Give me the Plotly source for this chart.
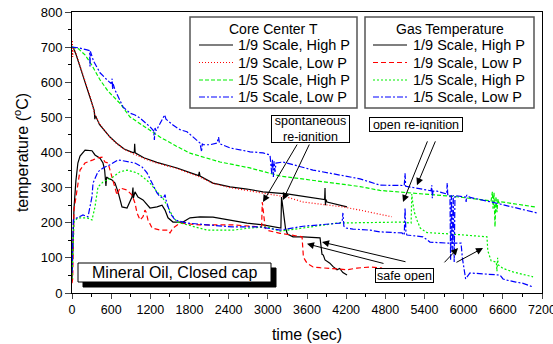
import plotly.graph_objects as go

# ---------------- data ----------------
# Core Center T
core_19H_t = [0, 20, 60, 123, 200, 276, 340, 350, 360, 420, 500, 582, 700, 800, 934, 955, 960, 968,
              1100, 1300, 1609, 1940, 1950, 1961, 2160, 2421, 2681, 2926, 3294, 3692, 3870, 3876,
              3882, 3890, 3907, 4152, 4213]
core_19H_T = [700, 698, 680, 644, 600, 558, 520, 495, 505, 480, 462, 444, 424, 410, 400, 401, 425, 399,
              385, 372, 356, 334, 345, 333, 313, 302, 296, 288, 282, 271, 266, 299, 250, 266, 259, 248, 245]

core_19L_t = [0, 5, 10, 15, 30, 60, 123, 200, 276, 352, 420, 500, 582, 700, 800, 934, 1100, 1300,
              1609, 1961, 2160, 2421, 2681, 2926, 3294, 3540, 4152, 4412, 4900]
core_19L_T = [680, 720, 672, 700, 698, 682, 648, 603, 560, 508, 482, 462, 443, 423, 409, 397, 383, 370,
              354, 330, 312, 300, 292, 285, 273, 259, 245, 236, 217]

core_15H_t = [0, 100, 199, 300, 429, 550, 735, 889, 1100, 1348, 1600, 1808, 2268, 2727, 3187, 3692,
              4412, 4718, 5178, 5898, 6420, 6440, 6450, 6465, 6480, 6495, 6510, 6525, 6540, 6560, 7093]
core_15H_T = [700, 695, 678, 650, 607, 575, 540, 501, 475, 444, 418, 398, 373, 356, 333, 320,
              303, 292, 285, 274, 262, 288, 240, 285, 188, 275, 230, 268, 255, 260, 245]

core_15L_t = [0, 100, 230, 270, 276, 282, 330, 429, 536, 600, 615, 622, 630, 659, 781, 889, 965, 1042,
              1195, 1250, 1262, 1272, 1290, 1394, 1420, 1440, 1547, 1655, 1762, 1961, 1985, 1995, 2010,
              2114, 2221, 2245, 2260, 2421, 2727, 2926, 3033, 3060, 3070, 3085, 3095, 3110, 3125, 3232,
              3692, 4412, 4718, 5090, 5102, 5112, 5500, 5512, 5520, 5530, 5592, 5740, 5748, 5756, 5790,
              5800, 5812, 5825, 5840, 5855, 5867, 5880, 6030, 6038, 6046, 6097, 6450, 7124]
core_15L_T = [700, 698, 692, 690, 645, 688, 660, 627, 607, 596, 610, 580, 595, 578, 530, 512, 507, 498,
              473, 462, 436, 470, 462, 501, 507, 495, 478, 465, 459, 427, 402, 425, 422,
              422, 427, 444, 425, 413, 402, 399, 393, 340, 380, 330, 375, 345, 370, 373,
              350, 325, 307, 306, 341, 304, 291, 307, 270, 290, 290, 282, 313, 280, 280,
              95, 279, 120, 279, 88, 278, 277, 273, 259, 279, 272, 258, 228]

# Gas Temperature
gas_19H_t = [0, 15, 30, 60, 90, 123, 200, 306, 352, 429, 475, 500, 505, 520, 530, 552, 613, 659, 705,
             766, 843, 919, 934, 940, 965, 1011, 1088, 1195, 1302, 1379, 1425, 1471, 1547, 1700, 1808,
             1961, 2160, 2421, 2681, 2926, 3156, 3200, 3210, 3225, 3240, 3255, 3270, 3300, 3386, 3540,
             3800, 3830, 3850, 3876, 3950, 4000, 4060, 4100, 4150, 4213]
gas_19H_T = [40, 120, 240, 320, 370, 390, 407, 405, 393, 384, 370, 350, 330, 305, 330, 327, 322, 313, 288,
             245, 242, 273, 300, 270, 288, 273, 265, 242, 245, 250, 236, 214, 202, 202, 214,
             217, 216, 208, 199, 194, 188, 185, 273, 250, 228, 200, 185, 168, 160, 160,
             157, 110, 108, 94, 85, 75, 66, 70, 58, 51]

gas_19L_t = [0, 10, 30, 45, 77, 123, 199, 322, 383, 460, 505, 552, 613, 659, 690, 735, 843, 919, 934,
             965, 996, 1042, 1088, 1118, 1134, 1164, 1226, 1348, 1471, 1501, 1547, 1655, 1961, 2467,
             2880, 2905, 2915, 2930, 2945, 2960, 3000, 3187, 3524, 3545, 3600, 3693, 3800, 3953, 4100,
             4213, 4366, 4566, 4650, 4750]
gas_19L_T = [28, 40, 236, 260, 293, 350, 370, 379, 384, 387, 373, 370, 330, 307, 279, 299, 293, 279, 270,
             256, 228, 208, 217, 236, 231, 208, 185, 179, 179, 171, 185, 199, 194, 194,
             188, 190, 259, 235, 200, 185, 178, 170, 160, 102, 85, 74, 72, 71, 68,
             66, 71, 74, 72, 71]

gas_15H_t = [0, 10, 30, 87, 230, 306, 352, 398, 475, 628, 735, 843, 996, 1088, 1195, 1302, 1379, 1455,
             1532, 1609, 1762, 2068, 2467, 2727, 2987, 3187, 3540, 4060, 4366, 5071, 5195, 5205, 5220,
             5245, 5290, 5335, 5377, 5438, 5800, 6357, 6370, 6400, 6420, 6500, 6510, 6520, 6530, 6603,
             6756, 7063]
gas_15H_T = [40, 100, 202, 214, 214, 208, 245, 302, 316, 330, 345, 350, 342, 330, 313, 288, 274, 250,
             222, 202, 194, 179, 179, 185, 188, 176, 185, 199, 200, 202, 199, 282, 258,
             230, 205, 185, 179, 172, 168, 160, 120, 100, 92, 88, 62, 100, 80, 70,
             60, 46]

gas_15L_t = [0, 10, 20, 77, 168, 245, 306, 322, 398, 475, 582, 705, 812, 965, 1072, 1149, 1226, 1302,
             1348, 1400, 1425, 1440, 1501, 1578, 1762, 2068, 2467, 2880, 3187, 3540, 4100, 4140, 4150,
             4165, 4200, 4305, 4566, 4718, 5055, 5090, 5102, 5115, 5130, 5377, 5484, 5745, 5960, 5980,
             6010, 6030, 6097, 6557, 6603, 6650, 6800, 6900, 7063]
gas_15L_T = [57, 150, 208, 214, 222, 217, 274, 313, 345, 356, 365, 379, 376, 370, 359, 342, 313, 285,
             274, 270, 280, 265, 228, 208, 199, 194, 188, 188, 179, 190, 199, 205, 228,
             190, 185, 182, 179, 174, 171, 165, 242, 175, 165, 160, 145, 142, 142, 100,
             55, 40, 57, 51, 40, 37, 31, 28, 17]

series_names = ["1/9 Scale, High P", "1/9 Scale, Low P", "1/5 Scale, High P", "1/5 Scale, Low P"]
legend_titles = ["Core Center T", "Gas Temperature"]
series_colors = ["#000000", "#ff0000", "#00f000", "#0000ff"]
core_dash = ["solid", "1px,2px", "4px,2px", "6px,2px,2px,2px"]
gas_dash = ["solid", "5px,3px", "2px,2px", "6px,2px,2px,2px"]

core_data = [(core_19H_t, core_19H_T), (core_19L_t, core_19L_T),
             (core_15H_t, core_15H_T), (core_15L_t, core_15L_T)]
gas_data = [(gas_19H_t, gas_19H_T), (gas_19L_t, gas_19L_T),
            (gas_15H_t, gas_15H_T), (gas_15L_t, gas_15L_T)]

FONT = "Arial, Liberation Sans, sans-serif"

# layout geometry (pixels of the 553x344 canvas)
W, H = 553, 344
L, R, T, B = 72, 11, 12, 51
PW, PH = W - L - R, H - T - B


def px(xp):
    return (xp - L) / PW


def py(yp):
    return (H - B - yp) / PH


fig = go.Figure()
for i, (t, Tv) in enumerate(gas_data):
    fig.add_trace(go.Scatter(
        x=t, y=Tv, mode="lines", showlegend=False,
        name="Gas Temperature: " + series_names[i],
        line=dict(color=series_colors[i], width=1.2, dash=gas_dash[i])))
for i, (t, Tv) in enumerate(core_data):
    fig.add_trace(go.Scatter(
        x=t, y=Tv, mode="lines", showlegend=False,
        name="Core Center T: " + series_names[i],
        line=dict(color=series_colors[i], width=1.2, dash=core_dash[i])))

shapes = []
ann = []

# ---------------- two legend boxes (Origin style) ----------------
legend_boxes = [
    # (box x0, box x1, sample x0, sample x1, text x, dashes)
    (190, 357, 199, 233, 236, core_dash),
    (365, 534, 373, 407, 411, gas_dash),
]
row_y = [45, 62.5, 80, 97]
for k, (bx0, bx1, sx0, sx1, tx, dashes) in enumerate(legend_boxes):
    shapes.append(dict(type="rect", xref="paper", yref="paper",
                       x0=px(bx0), x1=px(bx1), y0=py(108), y1=py(17),
                       line=dict(color="#555555", width=1.5), fillcolor="white", layer="above"))
    ann.append(dict(xref="paper", yref="paper", x=px((bx0 + bx1) / 2), y=py(29.5),
                    text=legend_titles[k], showarrow=False, xanchor="center", yanchor="middle",
                    font=dict(family=FONT, size=14, color="black")))
    for i in range(4):
        shapes.append(dict(type="line", xref="paper", yref="paper",
                           x0=px(sx0), x1=px(sx1), y0=py(row_y[i]), y1=py(row_y[i]),
                           line=dict(color=series_colors[i], width=1.2, dash=dashes[i]),
                           layer="above"))
        ann.append(dict(xref="paper", yref="paper", x=px(tx), y=py(row_y[i]),
                        text=series_names[i], showarrow=False, xanchor="left", yanchor="middle",
                        font=dict(family=FONT, size=14.5, color="black")))

# ---------------- text boxes and arrows ----------------
box = dict(bgcolor="white", bordercolor="black", borderwidth=1, borderpad=1,
           font=dict(family=FONT, size=12.5, color="black"), showarrow=False,
           xref="x", yref="y")
ann.append(dict(x=3646, y=467, text="spontaneous<br>re-ignition", width=75, height=24, **box))
ann.append(dict(x=5270, y=481, text="open re-ignition", width=90, height=11, **box))
ann.append(dict(x=5094, y=51, text="safe open", width=55, height=11, **box))

arrows = [
    # (tail_t, tail_T, head_t, head_T)
    (3462, 427, 2926, 259),
    (3646, 427, 3232, 265),
    (5454, 436, 5071, 259),
    (5576, 436, 5285, 307),
    (5132, 88, 3830, 145),
    (4795, 83, 3600, 140),
    (5684, 83, 5913, 128),
    (5867, 85, 6296, 128),
]
for (ta, Ta, th, Th) in arrows:
    ann.append(dict(x=th, y=Th, ax=ta, ay=Ta, xref="x", yref="y", axref="x", ayref="y",
                    text="", showarrow=True, arrowhead=2, arrowsize=1.4, arrowwidth=1,
                    arrowcolor="black", standoff=0, startstandoff=0))

# "Mineral Oil, Closed cap" label with a drop shadow
label_txt = "Mineral Oil, Closed cap"
lbx0, lbx1, lby0, lby1, sh = 78, 271, 263, 282, 5
shapes.append(dict(type="rect", xref="paper", yref="paper",
                   x0=px(lbx0 + sh), x1=px(lbx1 + sh), y0=py(lby1 + sh), y1=py(lby0 + sh),
                   line=dict(color="black", width=1), fillcolor="black", layer="above"))
shapes.append(dict(type="rect", xref="paper", yref="paper",
                   x0=px(lbx0), x1=px(lbx1), y0=py(lby1), y1=py(lby0),
                   line=dict(color="black", width=1), fillcolor="white", layer="above"))
ann.append(dict(x=px((lbx0 + lbx1) / 2), y=py((lby0 + lby1) / 2), text=label_txt,
                xref="paper", yref="paper", showarrow=False, xanchor="center", yanchor="middle",
                font=dict(family=FONT, size=16, color="black")))

fig.update_layout(
    width=W, height=H,
    margin=dict(l=L, r=R, t=T, b=B, autoexpand=False),
    paper_bgcolor="white", plot_bgcolor="white",
    font=dict(family=FONT, color="black"),
    showlegend=False,
    shapes=shapes,
    annotations=ann,
    xaxis=dict(range=[0, 7200], tick0=0, dtick=600, ticks="outside", ticklen=5, tickwidth=1,
               showline=True, linecolor="black", linewidth=1, mirror=True, showgrid=False,
               zeroline=False, tickfont=dict(family=FONT, size=12.5), ticklabeloverflow="allow",
               automargin=False,
               minor=dict(dtick=300, ticks="outside", ticklen=3, tickwidth=1, tickcolor="black"),
               title=dict(text="time (sec)", font=dict(family=FONT, size=16), standoff=12)),
    yaxis=dict(range=[0, 800], tick0=0, dtick=100, ticks="outside", ticklen=6, tickwidth=1,
               showline=True, linecolor="black", linewidth=1, mirror=True, showgrid=False,
               zeroline=False, tickfont=dict(family=FONT, size=13), automargin=False,
               minor=dict(dtick=50, ticks="outside", ticklen=3, tickwidth=1, tickcolor="black"),
               title=dict(text="temperature (<sup>o</sup>C)", font=dict(family=FONT, size=16),
                          standoff=8)),
)

fig.write_html("out.html")
